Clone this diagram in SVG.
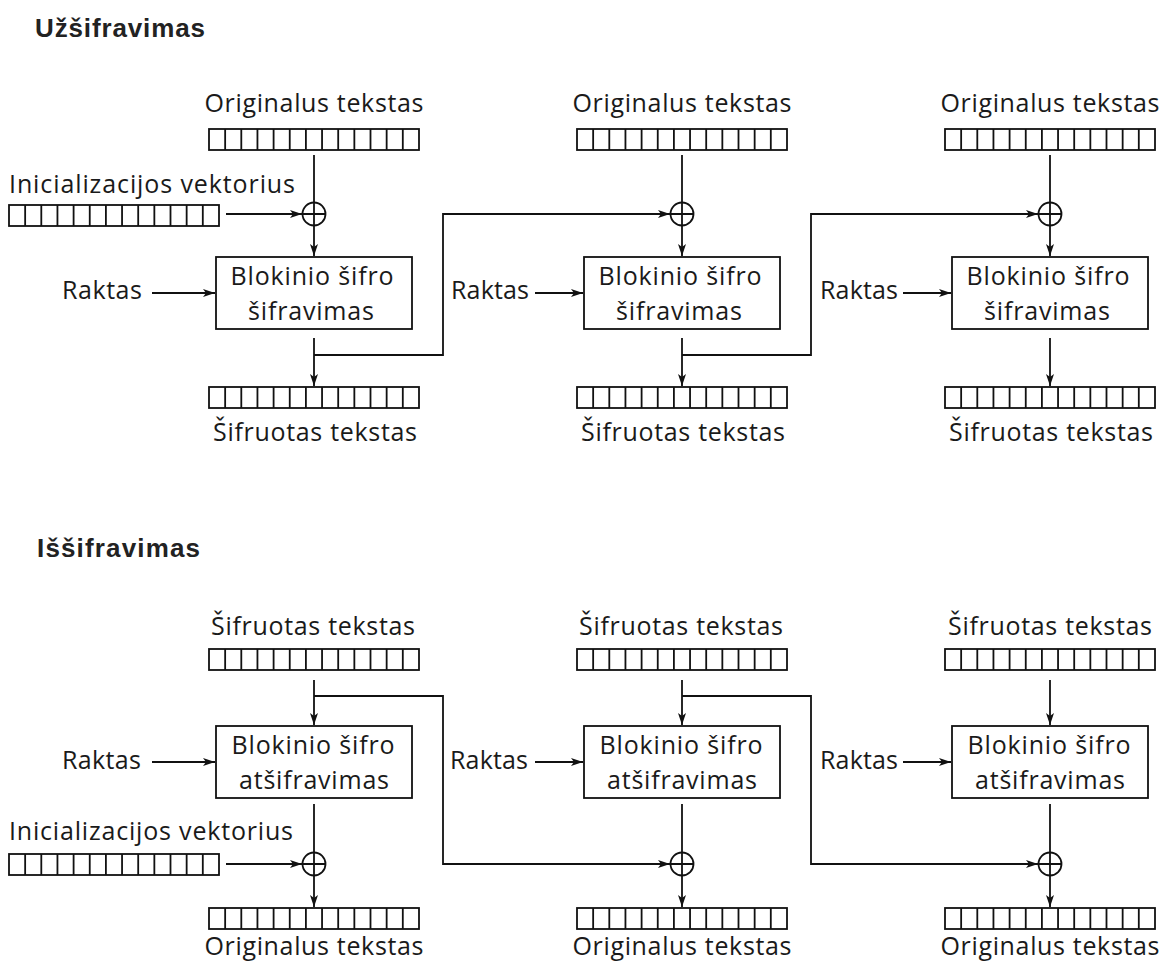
<svg xmlns="http://www.w3.org/2000/svg" xmlns:xlink="http://www.w3.org/1999/xlink" width="1164" height="962" viewBox="0 0 1164 962">
<style>
.lbl{font-family:"Open Sans","Liberation Sans",sans-serif;font-size:25px;fill:#1a1a1a}
.mid{text-anchor:middle}
.end{text-anchor:end}
.hd{font-family:"Liberation Sans","DejaVu Sans",sans-serif;font-weight:bold;font-size:26px;fill:#222}
.ln{fill:none;stroke:#111;stroke-width:1.8}
.bx{fill:#fff;stroke:#111;stroke-width:1.8}
.arr{fill:none;stroke:#111;stroke-width:1.8;marker-end:url(#ah)}
</style>
<defs>
<marker id="ah" markerUnits="userSpaceOnUse" markerWidth="14" markerHeight="10" refX="12" refY="4.5" orient="auto">
<path d="M0,0.5 L12,4.5 L0,8.5 L3,4.5 z" fill="#111"/>
</marker>
<g id="reg">
<rect x="0" y="0" width="210" height="21" class="bx"/>
<path class="ln" d="M16.15,0V21M32.3,0V21M48.45,0V21M64.6,0V21M80.75,0V21M96.9,0V21M113.05,0V21M129.2,0V21M145.35,0V21M161.5,0V21M177.65,0V21M193.8,0V21"/>
</g>
<g id="xor">
<circle cx="0" cy="0" r="11.5" class="bx"/>
<path class="ln" d="M-11.5,0H11.5M0,-11.5V11.5"/>
</g>
</defs>
<rect width="1164" height="962" fill="#fff"/>

<g id="connectors">
<!-- encryption -->
<line class="ln" x1="314" y1="155" x2="314" y2="202.5"/>
<line class="arr" x1="314" y1="225.5" x2="314" y2="256"/>
<line class="arr" x1="226" y1="214" x2="302" y2="214"/>
<line class="arr" x1="152" y1="293" x2="215" y2="293"/>
<line class="arr" x1="314" y1="338" x2="314" y2="386"/>
<path class="arr" d="M314,355H443V214H670"/>

<line class="ln" x1="682" y1="155" x2="682" y2="202.5"/>
<line class="arr" x1="682" y1="225.5" x2="682" y2="256"/>
<line class="arr" x1="535" y1="293" x2="583" y2="293"/>
<line class="arr" x1="682" y1="338" x2="682" y2="386"/>
<path class="arr" d="M682,355H811V214H1038"/>

<line class="ln" x1="1050" y1="155" x2="1050" y2="202.5"/>
<line class="arr" x1="1050" y1="225.5" x2="1050" y2="256"/>
<line class="arr" x1="903" y1="293" x2="951" y2="293"/>
<line class="arr" x1="1050" y1="338" x2="1050" y2="386"/>

<!-- decryption -->
<line class="arr" x1="314" y1="680" x2="314" y2="725"/>
<path class="arr" d="M314,696H443V864H670"/>
<line class="arr" x1="152" y1="762" x2="215" y2="762"/>
<line class="ln" x1="314" y1="804" x2="314" y2="852.5"/>
<line class="arr" x1="314" y1="875.5" x2="314" y2="907"/>
<line class="arr" x1="226" y1="864" x2="302" y2="864"/>

<line class="arr" x1="682" y1="680" x2="682" y2="725"/>
<path class="arr" d="M682,696H811V864H1038"/>
<line class="arr" x1="535" y1="762" x2="583" y2="762"/>
<line class="ln" x1="682" y1="804" x2="682" y2="852.5"/>
<line class="arr" x1="682" y1="875.5" x2="682" y2="907"/>

<line class="arr" x1="1050" y1="680" x2="1050" y2="725"/>
<line class="arr" x1="903" y1="762" x2="951" y2="762"/>
<line class="ln" x1="1050" y1="804" x2="1050" y2="852.5"/>
<line class="arr" x1="1050" y1="875.5" x2="1050" y2="907"/>
</g>

<g id="heading-enc"><text class="hd" x="35" y="37" textLength="170">Užšifravimas</text></g>
<g id="heading-dec"><text class="hd" x="37" y="557" textLength="163">Iššifravimas</text></g>

<!-- encryption nodes -->
<g id="enc-pt1"><text class="lbl mid" x="314" y="112" textLength="219">Originalus tekstas</text><use xlink:href="#reg" x="209" y="129"/></g>
<g id="enc-pt2"><text class="lbl mid" x="682" y="112" textLength="219">Originalus tekstas</text><use xlink:href="#reg" x="577" y="129"/></g>
<g id="enc-pt3"><text class="lbl mid" x="1050" y="112" textLength="219">Originalus tekstas</text><use xlink:href="#reg" x="945" y="129"/></g>

<g id="enc-iv"><text class="lbl" x="9" y="193" textLength="286">Inicializacijos vektorius</text><use xlink:href="#reg" x="9" y="205"/></g>

<g id="enc-xor1"><use xlink:href="#xor" x="314" y="214"/></g>
<g id="enc-xor2"><use xlink:href="#xor" x="682" y="214"/></g>
<g id="enc-xor3"><use xlink:href="#xor" x="1050" y="214"/></g>

<g id="enc-key1"><text class="lbl end" x="142" y="299" textLength="80">Raktas</text></g>
<g id="enc-key2"><text class="lbl end" x="529" y="299" textLength="78">Raktas</text></g>
<g id="enc-key3"><text class="lbl end" x="898" y="299" textLength="78">Raktas</text></g>

<g id="enc-box1"><rect class="bx" x="216" y="257" width="196" height="72"/><text class="lbl mid" x="312" y="285" textLength="163">Blokinio šifro</text><text class="lbl mid" x="311" y="320" textLength="126">šifravimas</text></g>
<g id="enc-box2"><rect class="bx" x="584" y="257" width="196" height="72"/><text class="lbl mid" x="680" y="285" textLength="163">Blokinio šifro</text><text class="lbl mid" x="679" y="320" textLength="126">šifravimas</text></g>
<g id="enc-box3"><rect class="bx" x="952" y="257" width="196" height="72"/><text class="lbl mid" x="1048" y="285" textLength="163">Blokinio šifro</text><text class="lbl mid" x="1047" y="320" textLength="126">šifravimas</text></g>

<g id="enc-ct1"><use xlink:href="#reg" x="209" y="387"/><text class="lbl mid" x="315" y="441" textLength="204">Šifruotas tekstas</text></g>
<g id="enc-ct2"><use xlink:href="#reg" x="577" y="387"/><text class="lbl mid" x="683" y="441" textLength="204">Šifruotas tekstas</text></g>
<g id="enc-ct3"><use xlink:href="#reg" x="945" y="387"/><text class="lbl mid" x="1051" y="441" textLength="204">Šifruotas tekstas</text></g>

<!-- decryption nodes -->
<g id="dec-ct1"><text class="lbl mid" x="313" y="635" textLength="204">Šifruotas tekstas</text><use xlink:href="#reg" x="209" y="649"/></g>
<g id="dec-ct2"><text class="lbl mid" x="681" y="635" textLength="204">Šifruotas tekstas</text><use xlink:href="#reg" x="577" y="649"/></g>
<g id="dec-ct3"><text class="lbl mid" x="1050" y="635" textLength="204">Šifruotas tekstas</text><use xlink:href="#reg" x="945" y="649"/></g>

<g id="dec-key1"><text class="lbl end" x="141" y="769" textLength="79">Raktas</text></g>
<g id="dec-key2"><text class="lbl end" x="528" y="769" textLength="78">Raktas</text></g>
<g id="dec-key3"><text class="lbl end" x="898" y="769" textLength="78">Raktas</text></g>

<g id="dec-box1"><rect class="bx" x="216" y="726" width="196" height="72"/><text class="lbl mid" x="313" y="754" textLength="163">Blokinio šifro</text><text class="lbl mid" x="314" y="789" textLength="150">atšifravimas</text></g>
<g id="dec-box2"><rect class="bx" x="584" y="726" width="196" height="72"/><text class="lbl mid" x="681" y="754" textLength="163">Blokinio šifro</text><text class="lbl mid" x="682" y="789" textLength="150">atšifravimas</text></g>
<g id="dec-box3"><rect class="bx" x="952" y="726" width="196" height="72"/><text class="lbl mid" x="1049" y="754" textLength="163">Blokinio šifro</text><text class="lbl mid" x="1050" y="789" textLength="150">atšifravimas</text></g>

<g id="dec-iv"><text class="lbl" x="9" y="840" textLength="284">Inicializacijos vektorius</text><use xlink:href="#reg" x="9" y="854"/></g>

<g id="dec-xor1"><use xlink:href="#xor" x="314" y="864"/></g>
<g id="dec-xor2"><use xlink:href="#xor" x="682" y="864"/></g>
<g id="dec-xor3"><use xlink:href="#xor" x="1050" y="864"/></g>

<g id="dec-pt1"><use xlink:href="#reg" x="209" y="908"/><text class="lbl mid" x="314" y="955" textLength="219">Originalus tekstas</text></g>
<g id="dec-pt2"><use xlink:href="#reg" x="577" y="908"/><text class="lbl mid" x="682" y="955" textLength="219">Originalus tekstas</text></g>
<g id="dec-pt3"><use xlink:href="#reg" x="945" y="908"/><text class="lbl mid" x="1050" y="955" textLength="219">Originalus tekstas</text></g>
</svg>
